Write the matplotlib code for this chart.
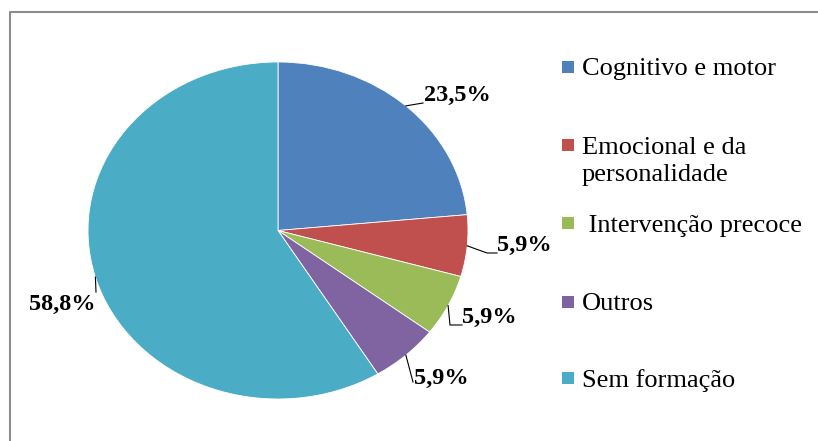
"""Pie chart of training areas (formação) with Excel-style leader labels."""

import matplotlib

matplotlib.use("Agg")
import matplotlib.pyplot as plt
import numpy as np
from matplotlib.lines import Line2D
from matplotlib.patches import Rectangle

categories = [
    "Cognitivo e motor",
    "Emocional e da\npersonalidade",
    " Intervenção precoce",
    "Outros",
    "Sem formação",
]
values = [23.5, 5.9, 5.9, 5.9, 58.8]
value_labels = ["23,5%", "5,9%", "5,9%", "5,9%", "58,8%"]
colors = ["#4F81BD", "#C0504D", "#9BBB59", "#8064A2", "#4BACC6"]

W, H = 818, 441
CX, CY, RX, RY = 278, 230.5, 190, 168.5

# label layout in pixels: rim point override, elbow, tail, text anchor
label_rim_y = [None, None, None, None, 277]
label_elbows = [(423, 103), (487, 253), (450, 325), (413, 382), (96, 292)]
label_tail = [None, (497, 253), (462, 325), None, None]
label_text = [(424, 101), (497, 251), (462, 323), (414, 384), (95, 310)]
label_ha = ["left", "left", "left", "left", "right"]

legend_y = [67, 145, 223, 302, 378]
legend_line_gap = 27


def px2d(x, y):
    return (x - CX) / RX, (CY - y) / RY


plt.rcParams["font.family"] = ["Liberation Serif", "DejaVu Serif"]

fig = plt.figure(figsize=(W / 100, H / 100), dpi=100)
ax = fig.add_axes([(CX - RX) / W, (H - CY - RY) / H, 2 * RX / W, 2 * RY / H])

wedges, _ = ax.pie(
    values,
    colors=colors,
    startangle=90,
    counterclock=False,
    wedgeprops=dict(edgecolor="white", linewidth=0.6),
)
ax.set_aspect("auto")
ax.set_xlim(-1, 1)
ax.set_ylim(-1, 1)
ax.axis("off")

for i, w in enumerate(wedges):
    if label_rim_y[i] is None:
        mid = np.deg2rad((w.theta1 + w.theta2) / 2)
        sx, sy = np.cos(mid), np.sin(mid)
    else:
        sy = (CY - label_rim_y[i]) / RY
        sx = -np.sqrt(1 - sy ** 2)
    ex, ey = px2d(*label_elbows[i])
    xs, ys = [sx, ex], [sy, ey]
    if label_tail[i] is not None:
        tx, ty = px2d(*label_tail[i])
        xs.append(tx)
        ys.append(ty)
    ax.plot(xs, ys, color="black", linewidth=0.8, clip_on=False)
    lx, ly = px2d(*label_text[i])
    ax.text(lx, ly, value_labels[i], ha=label_ha[i], va="baseline",
            fontsize=17.5, fontweight="bold", clip_on=False)

# legend drawn by hand to keep Excel's uneven spacing
for label, color, y in zip(categories, colors, legend_y):
    fig.add_artist(Rectangle((562 / W, 1 - (y + 6) / H), 12 / W, 12 / H,
                             transform=fig.transFigure, facecolor=color,
                             edgecolor="none"))
    for k, line in enumerate(label.split("\n")):
        fig.text(582 / W, 1 - (y + k * legend_line_gap) / H, line,
                 ha="left", va="center_baseline", fontsize=19)

# chart frame: only top and left edges are visible
fig.add_artist(Line2D([10 / W, 10 / W, 1], [0, 1 - 12 / H, 1 - 12 / H],
                      transform=fig.transFigure, color="#8C8C8C", linewidth=1.5))

fig.savefig("out.png", dpi=100)
